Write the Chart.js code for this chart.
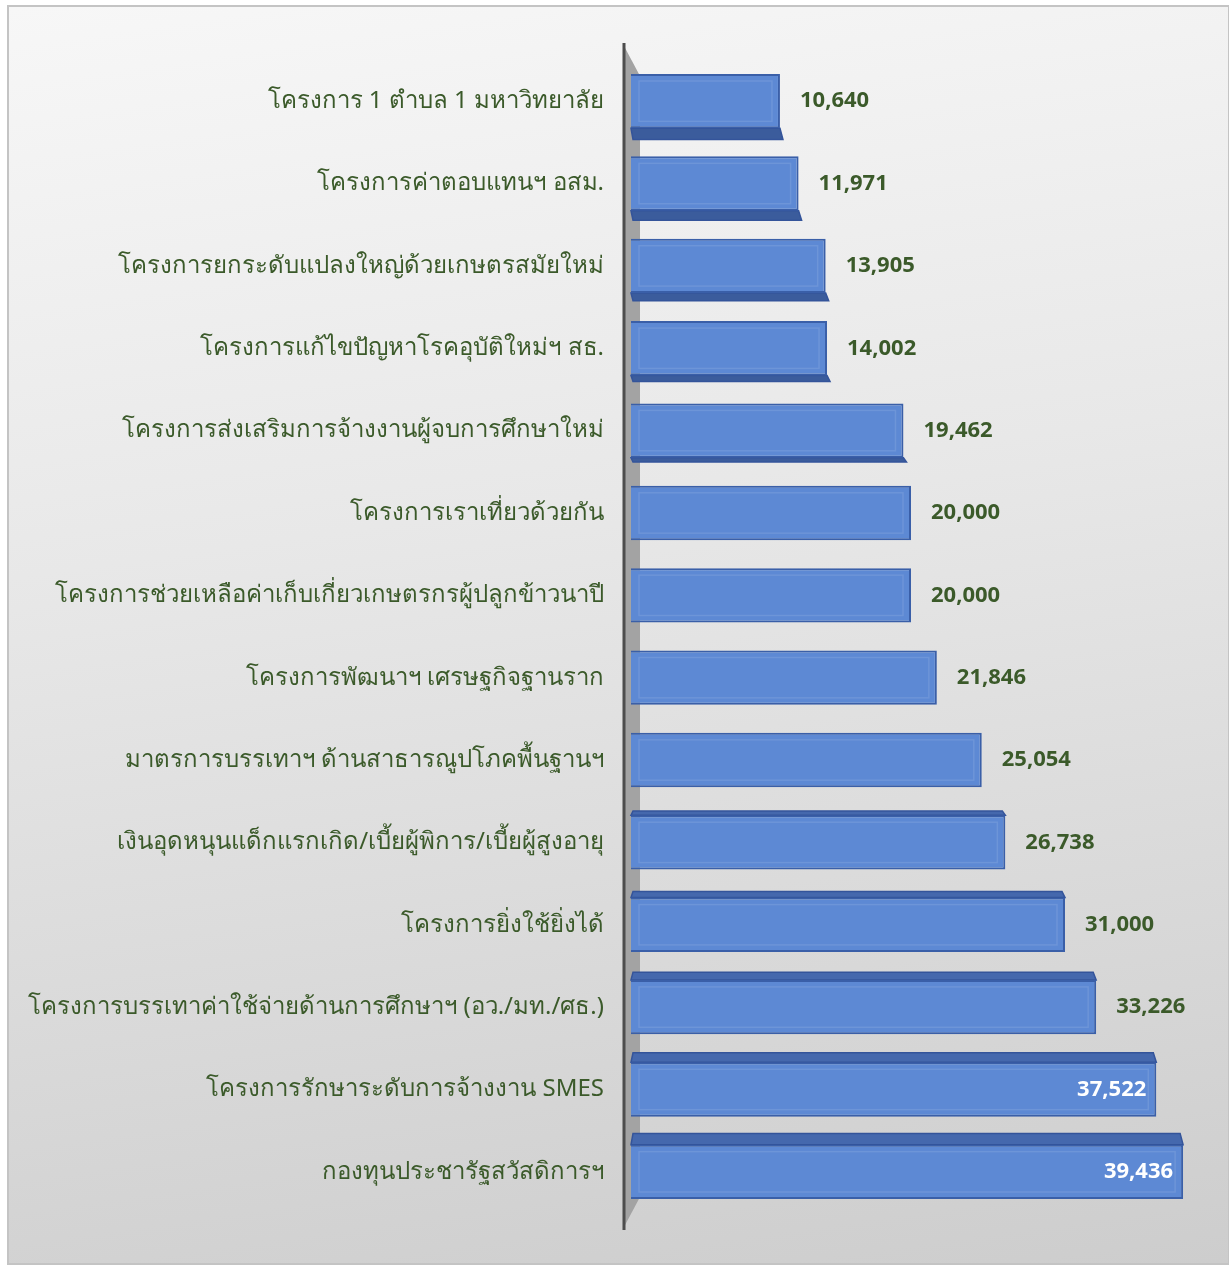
<!DOCTYPE html>
<html>
<head>
<meta charset="utf-8">
<script src="https://cdn.jsdelivr.net/npm/chart.js@4.4.1/dist/chart.umd.min.js"></script>
<style>
  body { margin: 0; background: #fff; }
  #frame {
    position: absolute; left: 7px; top: 5px; width: 1219px; height: 1256px;
    border: 2px solid #c4c4c4;
    background: linear-gradient(172deg, #f7f7f7 0%, #e8e8e8 40%, #cdcdcd 100%);
  }
  #chart { position: absolute; left: 0; top: 0; }
</style>
</head>
<body>
<div id="frame"></div>
<canvas id="chart" width="1229" height="1265"></canvas>
<script>
// Budget per project (million baht), top to bottom as in the picture
const categories = [
  'โครงการ 1 ตำบล 1 มหาวิทยาลัย',
  'โครงการค่าตอบแทนฯ อสม.',
  'โครงการยกระดับแปลงใหญ่ด้วยเกษตรสมัยใหม่',
  'โครงการแก้ไขปัญหาโรคอุบัติใหม่ฯ สธ.',
  'โครงการส่งเสริมการจ้างงานผู้จบการศึกษาใหม่',
  'โครงการเราเที่ยวด้วยกัน',
  'โครงการช่วยเหลือค่าเก็บเกี่ยวเกษตรกรผู้ปลูกข้าวนาปี',
  'โครงการพัฒนาฯ เศรษฐกิจฐานราก',
  'มาตรการบรรเทาฯ ด้านสาธารณูปโภคพื้นฐานฯ',
  'เงินอุดหนุนแด็กแรกเกิด/เบี้ยผู้พิการ/เบี้ยผู้สูงอายุ',
  'โครงการยิ่งใช้ยิ่งได้',
  'โครงการบรรเทาค่าใช้จ่ายด้านการศึกษาฯ (อว./มท./ศธ.)',
  'โครงการรักษาระดับการจ้างงาน SMES',
  'กองทุนประชารัฐสวัสดิการฯ'
];
const values = [10640, 11971, 13905, 14002, 19462, 20000, 20000, 21846, 25054, 26738, 31000, 33226, 37522, 39436];
const axisMax = 41000;

const FONT = 'Tahoma, "Noto Sans", "DejaVu Sans", sans-serif';
const GREEN = '#3b5a2a';

// left wall + axis line, and the depth faces of each bar
const depthPlugin = {
  id: 'depth',
  beforeDatasetsDraw(chart) {
    const ctx = chart.ctx;
    const area = chart.chartArea;
    const ax = area.left - 7;
    ctx.save();
    ctx.fillStyle = '#a3a3a3';
    ctx.beginPath();
    ctx.moveTo(ax, area.top - 14);
    ctx.lineTo(ax + 16, area.top + 16);
    ctx.lineTo(ax + 16, area.bottom - 16);
    ctx.lineTo(ax, area.bottom + 14);
    ctx.closePath();
    ctx.fill();
    ctx.strokeStyle = '#4d4d4d';
    ctx.lineWidth = 3;
    ctx.beginPath();
    ctx.moveTo(ax, area.top - 17);
    ctx.lineTo(ax, area.bottom + 17);
    ctx.stroke();

    const vp = (area.top + area.bottom) / 2;
    chart.getDatasetMeta(0).data.forEach(bar => {
      const p = bar.getProps(['x', 'y', 'base', 'height'], true);
      const x0 = p.base, x1 = p.x;
      const top = p.y - p.height / 2, bottom = p.y + p.height / 2;
      const dy = (vp - p.y) * 0.021;
      if (Math.abs(dy) < 3) return;
      ctx.beginPath();
      if (dy > 0) {
        ctx.fillStyle = '#3b5c9c';
        ctx.moveTo(x0, bottom);
        ctx.lineTo(x1, bottom);
        ctx.lineTo(x1 + 3, bottom + dy);
        ctx.lineTo(x0 + 2, bottom + dy);
      } else {
        ctx.fillStyle = '#4568ad';
        ctx.moveTo(x0, top);
        ctx.lineTo(x1, top);
        ctx.lineTo(x1 - 3, top + dy);
        ctx.lineTo(x0 + 2, top + dy);
      }
      ctx.closePath();
      ctx.fill();
      ctx.strokeStyle = '#34549a';
      ctx.lineWidth = 1.5;
      ctx.stroke();
    });
    ctx.restore();
  },
  afterDatasetsDraw(chart) {
    const ctx = chart.ctx;
    ctx.save();
    chart.getDatasetMeta(0).data.forEach((bar, i) => {
      const p = bar.getProps(['x', 'y', 'base', 'height'], true);
      // faint bevel inside the front face
      ctx.strokeStyle = 'rgba(255,255,255,0.1)';
      ctx.lineWidth = 1.5;
      ctx.strokeRect(p.base + 8, p.y - p.height / 2 + 7, p.x - p.base - 16, p.height - 14);
      // value label
      const v = values[i];
      const inside = v > 35000;
      ctx.font = 'bold 22px ' + FONT;
      ctx.textBaseline = 'middle';
      ctx.fillStyle = inside ? '#ffffff' : GREEN;
      ctx.textAlign = inside ? 'right' : 'left';
      ctx.fillText(v.toLocaleString('en-US'), inside ? p.x - 10 : p.x + 20, p.y);
    });
    ctx.restore();
  }
};

new Chart(document.getElementById('chart'), {
  type: 'bar',
  data: {
    labels: categories,
    datasets: [{
      data: values,
      backgroundColor: '#5d89d4',
      borderColor: '#3a5fa8',
      borderWidth: 2,
      barPercentage: 0.66,
      categoryPercentage: 1
    }]
  },
  options: {
    indexAxis: 'y',
    responsive: false,
    animation: false,
    devicePixelRatio: 1,
    layout: { padding: { top: 60, bottom: 52, right: 24, left: 0 } },
    plugins: {
      legend: { display: false },
      tooltip: { enabled: false }
    },
    scales: {
      x: { display: false, min: 0, max: axisMax },
      y: {
        grid: { display: false, drawTicks: false },
        border: { display: false },
        afterFit(scale) { scale.width = 631; },
        ticks: {
          color: GREEN,
          padding: 27,
          font: { family: FONT, size: 24 }
        }
      }
    }
  },
  plugins: [depthPlugin]
});
</script>
</body>
</html>
